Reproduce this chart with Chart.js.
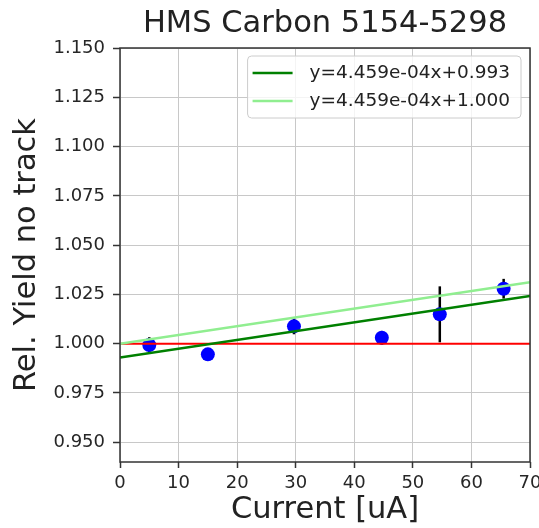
<!DOCTYPE html>
<html>
<head>
<meta charset="utf-8">
<script src="https://cdn.jsdelivr.net/npm/chart.js@4.4.1/dist/chart.umd.min.js"></script>
<style>
  html, body { margin: 0; padding: 0; background: #fff; }
  #wrap { width: 539px; height: 528px; position: relative; }
</style>
</head>
<body>
<div id="wrap"><canvas id="chart"></canvas></div>
<script>
// measured points
const currents = [5, 15, 29.7, 44.7, 54.6, 65.5];
const relYield = [0.9993, 0.9946, 1.0088, 1.0030, 1.0149, 1.0279];
const yieldErr = [0.004, 0.002, 0.004, 0.0035, 0.0142, 0.005];

// reference and fit lines (end points)
const lineX = [0, 70];
const unityLine = [1.000, 1.000];
const fitLine = [0.993, 1.0242];
const fitLineShifted = [1.000, 1.0312];
const fitLabels = ['y=4.459e-04x+0.993', 'y=4.459e-04x+1.000'];

const xTicks = [0, 10, 20, 30, 40, 50, 60, 70];
const yTicks = [0.950, 0.975, 1.000, 1.025, 1.050, 1.075, 1.100, 1.125, 1.150];

const chartTitle = 'HMS Carbon 5154-5298';

const toPoints = (xs, ys) => xs.map((v, i) => ({ x: v, y: ys[i] }));

Chart.defaults.font.family = '"DejaVu Sans", sans-serif';

const errorBars = {
    id: 'errorBars',
    beforeDatasetsDraw(chart) {
        const { ctx, scales: { x, y } } = chart;
        ctx.save();
        ctx.strokeStyle = '#000';
        ctx.lineWidth = 2.5;
        currents.forEach((c, i) => {
            const px = x.getPixelForValue(c);
            ctx.beginPath();
            ctx.moveTo(px, y.getPixelForValue(relYield[i] - yieldErr[i]));
            ctx.lineTo(px, y.getPixelForValue(relYield[i] + yieldErr[i]));
            ctx.stroke();
        });
        ctx.restore();
    }
};

// axes box + title centred over the plot area (matplotlib style)
const frame = {
    id: 'frame',
    afterDatasetsDraw(chart) {
        const { ctx, chartArea: a } = chart;
        ctx.save();
        ctx.strokeStyle = '#333';
        ctx.lineWidth = 1.5;
        ctx.strokeRect(a.left, a.top, a.right - a.left, a.bottom - a.top);
        ctx.font = '30.5px "DejaVu Sans"';
        ctx.fillStyle = '#222';
        ctx.textAlign = 'center';
        ctx.textBaseline = 'middle';
        ctx.fillText(chartTitle, (a.left + a.right) / 2, 24);
        ctx.restore();
    }
};

const fitLegend = {
    id: 'fitLegend',
    afterDraw(chart) {
        const { ctx, chartArea: a } = chart;
        const items = chart.data.datasets.filter(d => d.inLegend);
        ctx.save();
        ctx.font = '18.5px "DejaVu Sans"';
        const textW = Math.max(...items.map(d => ctx.measureText(d.label).width));
        const right = a.right - 9;
        const top = a.top + 8;
        const w = textW + 73;
        const h = 62;
        const left = right - w;
        ctx.beginPath();
        ctx.roundRect(left, top, w, h, 4);
        ctx.fillStyle = 'rgba(255,255,255,0.8)';
        ctx.fill();
        ctx.strokeStyle = '#cccccc';
        ctx.lineWidth = 1;
        ctx.stroke();
        items.forEach((d, i) => {
            const yy = top + 17 + i * 28;
            ctx.beginPath();
            ctx.strokeStyle = d.borderColor;
            ctx.lineWidth = d.borderWidth;
            ctx.moveTo(left + 5, yy);
            ctx.lineTo(left + 45, yy);
            ctx.stroke();
            ctx.fillStyle = '#222';
            ctx.textBaseline = 'middle';
            ctx.textAlign = 'left';
            ctx.fillText(d.label, left + 62, yy);
        });
        ctx.restore();
    }
};

new Chart(document.getElementById('chart').getContext('2d'), {
    type: 'scatter',
    data: {
        datasets: [
            {
                label: 'data',
                data: toPoints(currents, relYield),
                backgroundColor: '#0000ff',
                borderWidth: 0,
                pointRadius: 7,
                showLine: false,
                order: 10
            },
            {
                label: 'unity',
                data: toPoints(lineX, unityLine),
                borderColor: '#ff0000',
                borderWidth: 2,
                pointRadius: 0,
                showLine: true,
                order: 3
            },
            {
                label: fitLabels[0],
                data: toPoints(lineX, fitLine),
                borderColor: '#008000',
                borderWidth: 2.5,
                pointRadius: 0,
                showLine: true,
                inLegend: true,
                order: 2
            },
            {
                label: fitLabels[1],
                data: toPoints(lineX, fitLineShifted),
                borderColor: '#90ee90',
                borderWidth: 2.5,
                pointRadius: 0,
                showLine: true,
                inLegend: true,
                order: 1
            }
        ]
    },
    options: {
        responsive: true,
        maintainAspectRatio: false,
        animation: false,
        layout: { padding: { left: 0, right: 9, top: 48, bottom: 0 } },
        plugins: {
            legend: { display: false },
            tooltip: { enabled: false },
            title: { display: false }
        },
        scales: {
            x: {
                type: 'linear',
                min: 0,
                max: 70,
                afterBuildTicks: s => { s.ticks = xTicks.map(v => ({ value: v })); },
                afterFit: s => { s.height = 66; s.paddingLeft = 0; s.paddingRight = 0; },
                border: { display: false },
                grid: { color: '#c8c8c8', lineWidth: 1, tickLength: 6, tickColor: '#333', tickWidth: 1.5 },
                ticks: { color: '#262626', font: { size: 18 }, padding: 5, maxRotation: 0 },
                title: {
                    display: true,
                    text: 'Current [uA]',
                    color: '#222',
                    font: { size: 30.5 },
                    padding: { top: 0, bottom: 0 }
                }
            },
            y: {
                type: 'linear',
                min: 0.94,
                max: 1.15,
                afterBuildTicks: s => { s.ticks = yTicks.map(v => ({ value: v })); },
                afterFit: s => { s.width = 120; },
                border: { display: false },
                grid: { color: '#c8c8c8', lineWidth: 1, tickLength: 7, tickColor: '#333', tickWidth: 1.5 },
                ticks: {
                    color: '#262626',
                    font: { size: 18 },
                    padding: 8,
                    callback: v => v.toFixed(3)
                },
                title: {
                    display: true,
                    text: 'Rel. Yield no track',
                    color: '#222',
                    font: { size: 30.5 },
                    padding: { top: 9, bottom: 0 }
                }
            }
        }
    },
    plugins: [errorBars, frame, fitLegend]
});
</script>
</body>
</html>
